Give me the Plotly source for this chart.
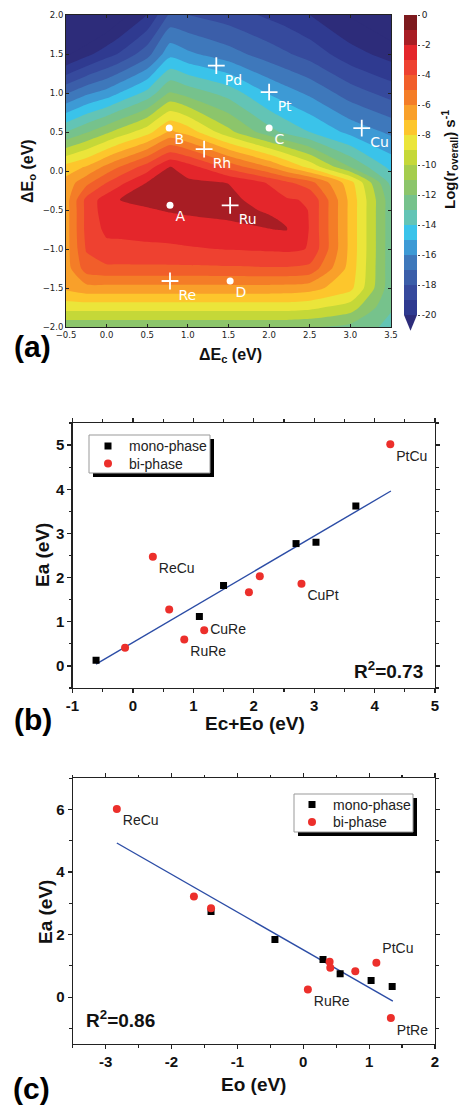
import plotly.graph_objects as go

W, H = 463, 1107

# ---------------- panel (a) data: log rate map ----------------
ec_grid = [-0.5, -0.25, 0.0, 0.13, 0.5, 0.78, 1.0, 1.5, 2.0, 2.22, 2.5, 3.0, 3.5]
eo_grid = [-2.0, -1.75, -1.5, -1.25, -1.0, -0.75, -0.62, -0.5, -0.37, -0.15, 0.05, 0.5, 1.0, 1.5, 2.0]
log_r = [
    [-10.8, -10.8, -10.8, -10.8, -10.8, -10.8, -10.8, -10.8, -10.8, -10.8, -10.9, -11.3, -12.3],
    [-8.6, -8.6, -8.6, -8.6, -8.6, -8.6, -8.6, -8.6, -8.6, -8.6, -8.75, -9.5, -11.9],
    [-6.8, -6.35, -6.35, -6.35, -6.35, -6.35, -6.35, -6.35, -6.35, -6.4, -6.6, -7.7, -11.6],
    [-6.5, -4.5, -4.2, -4.2, -4.2, -4.2, -4.2, -4.15, -4.1, -4.1, -4.3, -7.4, -11.6],
    [-6.45, -3.9, -3.3, -3.28, -3.22, -3.18, -3.1, -2.95, -2.85, -2.8, -3.05, -7.3, -11.6],
    [-6.45, -3.7, -2.77, -2.75, -2.62, -2.53, -2.45, -2.25, -2.01, -1.97, -3.05, -7.3, -11.6],
    [-6.45, -3.7, -2.6, -2.45, -2.3, -2.18, -2.1, -1.97, -1.9, -2.12, -3.05, -7.3, -11.6],
    [-6.45, -3.7, -2.45, -2.21, -2.07, -1.93, -1.85, -1.75, -2.1, -2.5, -3.05, -7.3, -11.6],
    [-6.45, -3.7, -2.45, -2.02, -1.8, -1.7, -1.7, -1.75, -2.45, -2.9, -3.1, -7.3, -11.6],
    [-6.6, -5.3, -4.0, -3.4, -1.95, -1.75, -1.8, -2.02, -3.1, -3.8, -4.6, -7.6, -12.3],
    [-7.6, -6.9, -5.7, -5.1, -3.5, -1.95, -2.5, -4.3, -6.0, -7.0, -8.3, -11.0, -13.3],
    [-12.0, -11.1, -10.2, -9.7, -8.4, -6.8, -7.4, -9.7, -11.6, -12.3, -13.0, -14.3, -15.2],
    [-16.1, -15.2, -14.6, -14.1, -12.7, -10.9, -11.4, -12.4, -14.1, -14.6, -15.2, -16.5, -17.4],
    [-20.2, -19.3, -18.4, -18.0, -16.4, -14.3, -14.8, -15.6, -16.5, -16.9, -17.4, -18.6, -19.4],
    [-23.0, -22.3, -21.3, -20.6, -19.0, -16.8, -17.0, -17.5, -18.2, -18.5, -19.0, -20.1, -21.2],
]

# band colours, from the extension below -20 up to the -1..0 band
band_colors = ['#2d2c7a', '#2f3a90', '#364a9d', '#3b5ea9', '#3e78bb', '#3d9ad5', '#3ac3ea',
               '#63c4b5', '#76c28c', '#8cc56b', '#a5cd4d', '#c5d838', '#ebe53a', '#fdc62c',
               '#f9a02a', '#f47d27', '#f15e2a', '#ee4130', '#e4262b', '#a81d24', '#7d1a1e']
cbar_band_mid = [-19.5 + i for i in range(20)]
cbar_ticks = [0, -2, -4, -6, -8, -10, -12, -14, -16, -18, -20]
cbar_tick_text = ['0', '-2', '-4', '-6', '-8', '-10', '-12', '-14', '-16', '-18', '-20']

circle_names = ['A', 'B', 'C', 'D']
circle_ec = [0.78, 0.77, 2.0, 1.52]
circle_eo = [-0.44, 0.55, 0.55, -1.41]
plus_names = ['Pd', 'Pt', 'Cu', 'Rh', 'Ru', 'Re']
plus_ec = [1.35, 2.0, 3.14, 1.2, 1.52, 0.78]
plus_eo = [1.35, 1.01, 0.55, 0.28, -0.44, -1.41]

# ---------------- panel (b) data ----------------
b_mono_x = [-0.61, 1.10, 1.50, 2.70, 3.03, 3.69]
b_mono_y = [0.13, 1.12, 1.82, 2.77, 2.80, 3.62]
b_bi_x = [-0.13, 0.33, 0.60, 0.85, 1.18, 1.92, 2.10, 2.79, 4.26]
b_bi_y = [0.41, 2.47, 1.28, 0.60, 0.81, 1.67, 2.03, 1.86, 5.02]
b_bi_labels = ['', 'ReCu', '', 'RuRe', 'CuRe', '', '', 'CuPt', 'PtCu']
b_fit_x = [-0.61, 4.27]
b_fit_y = [0.04, 3.96]

# ---------------- panel (c) data ----------------
c_mono_x = [-1.40, -0.43, 0.30, 0.56, 1.03, 1.35]
c_mono_y = [2.74, 1.84, 1.20, 0.75, 0.53, 0.34]
c_bi_x = [-2.83, -1.66, -1.40, 0.40, 0.41, 0.79, 1.11, 0.07, 1.33]
c_bi_y = [6.02, 3.22, 2.84, 1.13, 0.94, 0.83, 1.10, 0.24, -0.67]
c_bi_labels = ['ReCu', '', '', '', '', '', 'PtCu', 'RuRe', 'PtRe']
c_fit_x = [-2.83, 1.36]
c_fit_y = [4.93, -0.13]

legend_names = ['mono-phase', 'bi-phase']

# ---------------- helpers ----------------
def px_x(p):
    return p / W

def px_y(p):
    return 1 - p / H

n = len(band_colors)
colorscale = []
for k, c in enumerate(band_colors):
    colorscale.append([k / n, c])
    colorscale.append([(k + 1) / n, c])

RED = '#ec2f2b'
BLUE = '#2c4da6'
ARIAL = 'Liberation Sans'
DEJAVU = 'DejaVu Sans'

fig = go.Figure()

# contour map
fig.add_trace(go.Contour(
    x=ec_grid, y=eo_grid, z=log_r,
    colorscale=colorscale, zmin=-21, zmax=0,
    autocontour=False,
    contours=dict(start=-20, end=0, size=1, coloring='fill', showlines=False),
    line=dict(width=0, smoothing=0.6),
    showscale=False, hoverinfo='skip',
    xaxis='x', yaxis='y'))

fig.add_trace(go.Scatter(
    x=circle_ec, y=circle_eo, text=circle_names, mode='markers+text',
    textposition='bottom right',
    marker=dict(symbol='circle', size=7, color='white'),
    textfont=dict(family=DEJAVU, size=14, color='white'),
    showlegend=False, xaxis='x', yaxis='y'))
fig.add_trace(go.Scatter(
    x=plus_ec, y=plus_eo, text=plus_names, mode='markers+text',
    textposition='bottom right',
    marker=dict(symbol='cross-thin', size=12, color='white', line=dict(color='white', width=1.8)),
    textfont=dict(family=DEJAVU, size=14, color='white'),
    showlegend=False, xaxis='x', yaxis='y'))

# colour bar drawn as a one-column heatmap
fig.add_trace(go.Heatmap(
    x=[0.5], y=cbar_band_mid, z=[[v] for v in cbar_band_mid],
    colorscale=colorscale, zmin=-21, zmax=0, showscale=False,
    hoverinfo='skip', xaxis='x2', yaxis='y2'))

# panel (b)
fig.add_trace(go.Scatter(x=b_fit_x, y=b_fit_y, mode='lines',
                         line=dict(color=BLUE, width=1.4), showlegend=False,
                         xaxis='x3', yaxis='y3'))
fig.add_trace(go.Scatter(x=b_mono_x, y=b_mono_y, mode='markers', name=legend_names[0],
                         marker=dict(symbol='square', size=7, color='black'),
                         showlegend=False, xaxis='x3', yaxis='y3'))
fig.add_trace(go.Scatter(x=b_bi_x, y=b_bi_y, mode='markers+text', name=legend_names[1],
                         text=b_bi_labels,
                         textposition=['bottom right', 'bottom right', 'bottom right', 'bottom right',
                                       'middle right', 'bottom right', 'bottom right', 'bottom right',
                                       'bottom right'],
                         textfont=dict(family=ARIAL, size=14, color='#222'),
                         marker=dict(symbol='circle', size=8, color=RED),
                         showlegend=False, xaxis='x3', yaxis='y3'))

# panel (c)
fig.add_trace(go.Scatter(x=c_fit_x, y=c_fit_y, mode='lines',
                         line=dict(color=BLUE, width=1.4), showlegend=False,
                         xaxis='x4', yaxis='y4'))
fig.add_trace(go.Scatter(x=c_mono_x, y=c_mono_y, mode='markers', name=legend_names[0],
                         marker=dict(symbol='square', size=7, color='black'),
                         showlegend=False, xaxis='x4', yaxis='y4'))
fig.add_trace(go.Scatter(x=c_bi_x, y=c_bi_y, mode='markers+text', name=legend_names[1],
                         text=c_bi_labels,
                         textposition=['bottom right', 'bottom right', 'bottom right', 'bottom right',
                                       'bottom right', 'bottom right', 'top right', 'bottom right',
                                       'bottom right'],
                         textfont=dict(family=ARIAL, size=14, color='#222'),
                         marker=dict(symbol='circle', size=8, color=RED),
                         showlegend=False, xaxis='x4', yaxis='y4'))

# ---------------- axes ----------------
a_common = dict(showline=True, linecolor='#222', linewidth=1, mirror='ticks',
                ticks='inside', ticklen=3, tickcolor='#222', showgrid=False, zeroline=False,
                automargin=False,
                tickfont=dict(family=DEJAVU, size=8.5, color='#222'), tickformat='.1f')
bc_common = dict(showline=True, linecolor='#222', linewidth=1.2, mirror='ticks',
                 ticks='outside', ticklen=4, tickwidth=1.2, tickcolor='#222',
                 showgrid=False, zeroline=False, automargin=False,
                 tickfont=dict(family=ARIAL, size=15, color='#111', weight='bold'))

fig.update_layout(
    template='none',
    width=W, height=H, margin=dict(l=0, r=0, t=0, b=0, pad=0, autoexpand=False),
    paper_bgcolor='white', plot_bgcolor='white', showlegend=False,
    font=dict(family=ARIAL, size=12, color='#222'),
    xaxis=dict(domain=[px_x(66), px_x(391)], range=[-0.5, 3.5], anchor='y',
               tickvals=[-0.5, 0, 0.5, 1, 1.5, 2, 2.5, 3, 3.5], **a_common),
    yaxis=dict(domain=[px_y(327), px_y(15)], range=[-2, 2], anchor='x',
               tickvals=[-2, -1.5, -1, -0.5, 0, 0.5, 1, 1.5, 2], **a_common),
    xaxis2=dict(domain=[px_x(404), px_x(417)], range=[0, 1], anchor='y2', visible=False,
                automargin=False),
    yaxis2=dict(domain=[px_y(331.5), px_y(15)], range=[-21.1, 0], anchor='x2', side='right',
                tickvals=cbar_ticks, ticktext=cbar_tick_text, ticks='outside', ticklen=2,
                tickcolor='#444', showline=False, showgrid=False, zeroline=False,
                automargin=False,
                tickfont=dict(family=DEJAVU, size=9, color='#222')),
    xaxis3=dict(domain=[px_x(72.5), px_x(435)], range=[-1, 5], anchor='y3',
                tickvals=[-1, 0, 1, 2, 3, 4, 5], ticktext=['-1', '0', '1', '2', '3', '4', '5'],
                minor=dict(dtick=0.5, ticklen=2.5, tickcolor='#222', ticks='outside'), **bc_common),
    yaxis3=dict(domain=[px_y(688), px_y(423)], range=[-0.5, 5.5], anchor='x3',
                tickvals=[0, 1, 2, 3, 4, 5],
                minor=dict(dtick=0.5, ticklen=2.5, tickcolor='#222', ticks='outside'), **bc_common),
    xaxis4=dict(domain=[px_x(72.7), px_x(435)], range=[-3.5, 2], anchor='y4',
                tickvals=[-3, -2, -1, 0, 1, 2], ticktext=['-3', '-2', '-1', '0', '1', '2'],
                minor=dict(dtick=0.5, ticklen=2.5, tickcolor='#222', ticks='outside'), **bc_common),
    yaxis4=dict(domain=[px_y(1044), px_y(778.3)], range=[-1.5, 7], anchor='x4',
                tickvals=[0, 2, 4, 6],
                minor=dict(dtick=1, ticklen=2.5, tickcolor='#222', ticks='outside'), **bc_common),
)

shapes = []
# colour bar extension triangle
shapes.append(dict(type='path', xref='x2', yref='y2', path='M 0,-20 L 1,-20 L 0.5,-21.05 Z',
                   fillcolor=band_colors[0], line=dict(width=0), layer='above'))

ann = []
def label(text, x, y, size, family=ARIAL, angle=0, color='#111', xanchor='center'):
    ann.append(dict(text=text, x=px_x(x), y=px_y(y), xref='paper', yref='paper',
                    showarrow=False, xanchor=xanchor, yanchor='middle', textangle=angle,
                    font=dict(family=family, size=size, color=color)))

# legend boxes (with drop shadows), symbols and names
for (l, t, r, b), sym_x, y_rows, txt_x in [((89, 435, 210, 473), 108, (446, 463.5), 127),
                                           ((294, 794, 413, 832), 312, (804.5, 822), 331)]:
    shapes.append(dict(type='rect', xref='paper', yref='paper',
                       x0=px_x(l + 4), x1=px_x(r + 4), y0=px_y(b + 4), y1=px_y(t + 4),
                       fillcolor='black', line=dict(width=0), layer='above'))
    shapes.append(dict(type='rect', xref='paper', yref='paper',
                       x0=px_x(l), x1=px_x(r), y0=px_y(b), y1=px_y(t),
                       fillcolor='white', line=dict(color='#999', width=1), layer='above'))
    shapes.append(dict(type='rect', xref='paper', yref='paper',
                       x0=px_x(sym_x - 3.5), x1=px_x(sym_x + 3.5),
                       y0=px_y(y_rows[0] + 3.5), y1=px_y(y_rows[0] - 3.5),
                       fillcolor='black', line=dict(width=0), layer='above'))
    shapes.append(dict(type='circle', xref='paper', yref='paper',
                       x0=px_x(sym_x - 4), x1=px_x(sym_x + 4),
                       y0=px_y(y_rows[1] + 4), y1=px_y(y_rows[1] - 4),
                       fillcolor=RED, line=dict(width=0), layer='above'))
    label(legend_names[0], txt_x, y_rows[0], 14, color='#222', xanchor='left')
    label(legend_names[1], txt_x, y_rows[1], 14, color='#222', xanchor='left')
fig.update_layout(shapes=shapes)

label('<b>ΔE<sub>c</sub> (eV)</b>', 230, 355, 16)
label('<b>ΔE<sub>o</sub> (eV)</b>', 28, 171, 16, angle=-90)
label('<b>Log(r<sub>overall</sub>) s<sup>-1</sup></b>', 449, 160, 15, angle=-90)
label('<b>(a)</b>', 32, 346, 30, color='#000')
label('<b>Ec+Eo (eV)</b>', 255, 723, 19)
label('<b>Ea (eV)</b>', 42, 555, 19, angle=-90)
label('<b>R<sup>2</sup>=0.73</b>', 388, 670, 19)
label('<b>(b)</b>', 33, 719, 30, color='#000')
label('<b>Eo (eV)</b>', 253, 1084, 19)
label('<b>Ea (eV)</b>', 45, 912, 19, angle=-90)
label('<b>R<sup>2</sup>=0.86</b>', 120, 1019, 19)
label('<b>(c)</b>', 31, 1088, 30, color='#000')
fig.update_layout(annotations=ann)

fig.write_html('out.html',
               config={'displayModeBar': False, 'staticPlot': True},
               post_script="document.body.style.margin='0px';"
                           "document.documentElement.style.overflow='hidden';")
